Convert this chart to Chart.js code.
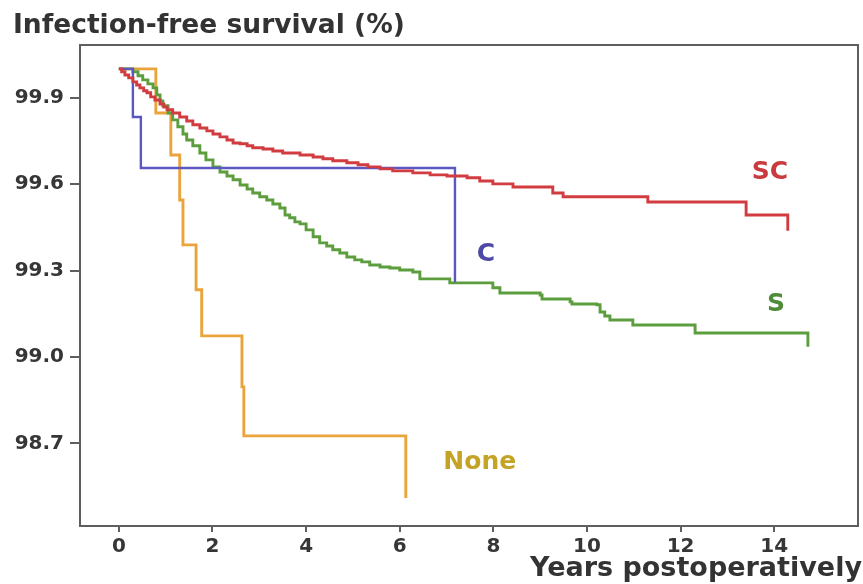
<!DOCTYPE html>
<html>
<head>
<meta charset="utf-8">
<script src="https://cdn.jsdelivr.net/npm/chart.js@4"></script>
<style>
html,body{margin:0;padding:0;background:#fff;}
#wrap{width:863px;height:584px;position:relative;}
</style>
</head>
<body>
<div id="wrap"><canvas id="c" width="863" height="584"></canvas></div>
<script>
// ---- data (years postoperatively, infection-free survival %) ----
const scTimes = [0,0.06,0.13,0.21,0.30,0.38,0.45,0.53,0.60,0.68,0.77,0.88,0.96,1.03,1.15,1.30,1.45,1.58,1.73,1.88,2.01,2.16,2.31,2.44,2.59,2.74,2.86,3.08,3.29,3.50,3.87,4.15,4.36,4.57,4.87,5.11,5.32,5.58,5.85,6.28,6.65,7.01,7.44,7.71,7.99,8.42,9.27,9.49,11.30,13.40,14.29];
const scSurv  = [100,99.990,99.979,99.969,99.955,99.944,99.934,99.924,99.917,99.903,99.892,99.878,99.868,99.858,99.847,99.833,99.819,99.806,99.795,99.785,99.774,99.764,99.753,99.743,99.740,99.733,99.726,99.722,99.715,99.708,99.701,99.694,99.688,99.681,99.674,99.667,99.660,99.653,99.646,99.639,99.632,99.628,99.622,99.611,99.601,99.590,99.569,99.556,99.538,99.493,99.438];

const sTimes = [0,0.30,0.41,0.51,0.62,0.73,0.81,0.88,0.94,1.05,1.15,1.26,1.37,1.45,1.58,1.73,1.86,2.01,2.16,2.31,2.44,2.59,2.74,2.86,3.01,3.16,3.29,3.44,3.55,3.65,3.76,3.87,4.00,4.15,4.29,4.44,4.57,4.72,4.87,5.04,5.19,5.36,5.58,5.79,6.00,6.28,6.43,7.07,7.99,8.14,9.00,9.04,9.64,9.68,10.21,10.28,10.38,10.49,10.98,12.31,14.72];
const sSurv  = [100,99.990,99.976,99.962,99.948,99.934,99.910,99.889,99.872,99.847,99.823,99.799,99.774,99.753,99.733,99.708,99.684,99.660,99.642,99.628,99.615,99.597,99.583,99.569,99.556,99.545,99.531,99.517,99.493,99.483,99.469,99.462,99.441,99.417,99.396,99.385,99.372,99.361,99.347,99.337,99.330,99.319,99.312,99.309,99.302,99.295,99.271,99.257,99.240,99.222,99.215,99.201,99.191,99.184,99.181,99.156,99.142,99.128,99.111,99.083,99.035];

const cTimes = [0,0.30,0.47,7.18];
const cSurv  = [100,99.833,99.656,99.260];

const noneTimes = [0,0.79,1.11,1.30,1.37,1.65,1.77,2.63,2.67,6.13];
const noneSurv  = [100,99.847,99.701,99.545,99.389,99.233,99.073,98.896,98.726,98.510];

const xTickValues = [0,2,4,6,8,10,12,14];
const yTickValues = [98.7,99.0,99.3,99.6,99.9];
const yTickLabels = ['98.7','99.0','99.3','99.6','99.9'];

const seriesNames = ['SC','C','S','None'];
const labelX = [13.91,7.84,14.04,7.71];
const labelY = [99.639,99.354,99.181,98.632];

const yTitle = 'Infection-free survival (%)';
const xTitle = 'Years postoperatively';

// ---- styles ----
const lineColors  = ['#d23c41','#5b58c2','#5c9e3e','#e9a43c'];
const labelColors = ['#c93b3e','#4d4aa6','#4f8c3a','#c4a325'];
const FONT = '"DejaVu Sans", sans-serif';
const AXIS = '#5e5e5e';

function pts(t, s){ return t.map((v,i)=>({x:v, y:s[i]})); }

const seriesData = [pts(scTimes,scSurv), pts(cTimes,cSurv), pts(sTimes,sSurv), pts(noneTimes,noneSurv)];

const decor = {
  id:'decor',
  afterDraw(chart){
    const ctx = chart.ctx, a = chart.chartArea;
    ctx.save();
    ctx.strokeStyle = AXIS; ctx.lineWidth = 2;
    ctx.beginPath();
    ctx.moveTo(a.left, a.top); ctx.lineTo(a.right, a.top); ctx.lineTo(a.right, a.bottom);
    ctx.stroke();
    ctx.font = 'bold 25px ' + FONT;
    ctx.textAlign = 'center'; ctx.textBaseline = 'middle';
    seriesNames.forEach((n,i)=>{
      ctx.fillStyle = labelColors[i];
      ctx.fillText(n, chart.scales.x.getPixelForValue(labelX[i]), chart.scales.y.getPixelForValue(labelY[i]));
    });
    ctx.fillStyle = '#333';
    ctx.font = 'bold 26.5px ' + FONT;
    ctx.textAlign = 'left'; ctx.textBaseline = 'alphabetic';
    ctx.fillText(yTitle, 13, 33);
    ctx.font = 'bold 27px ' + FONT;
    ctx.textAlign = 'right';
    ctx.fillText(xTitle, 862, 576);
    ctx.restore();
  }
};

new Chart(document.getElementById('c'), {
  type:'line',
  data:{
    datasets: seriesNames.map((n,i)=>({
      label:n,
      data:seriesData[i],
      borderColor:lineColors[i],
      backgroundColor:lineColors[i],
      borderWidth: i===1 ? 2.4 : 2.9,
      stepped:true,
      pointRadius:0,
      fill:false,
      tension:0
    }))
  },
  options:{
    responsive:false,
    animation:false,
    layout:{padding:{top:45,right:5,left:0,bottom:0}},
    plugins:{legend:{display:false},tooltip:{enabled:false},title:{display:false}},
    scales:{
      x:{
        type:'linear', min:-0.83, max:15.79,
        afterBuildTicks(s){ s.ticks = xTickValues.map(v=>({value:v})); },
        afterFit(s){ s.height = 58; },
        grid:{display:true, drawOnChartArea:false, drawTicks:true, tickLength:6, color:AXIS, lineWidth:2},
        border:{display:true, color:AXIS, width:2},
        ticks:{color:'#363636', font:{family:FONT, size:20, weight:'bold'}, padding:3, maxRotation:0, autoSkip:false}
      },
      y:{
        type:'linear', min:98.413, max:100.083,
        afterBuildTicks(s){ s.ticks = yTickValues.map(v=>({value:v})); },
        afterFit(s){ s.width = 80; },
        grid:{display:true, drawOnChartArea:false, drawTicks:true, tickLength:10, color:AXIS, lineWidth:2},
        border:{display:true, color:AXIS, width:2},
        ticks:{color:'#363636', font:{family:FONT, size:20, weight:'bold'}, padding:6,
          callback(v){ const i = yTickValues.indexOf(v); return i>=0 ? yTickLabels[i] : ''; }}
      }
    }
  },
  plugins:[decor]
});
</script>
</body>
</html>
